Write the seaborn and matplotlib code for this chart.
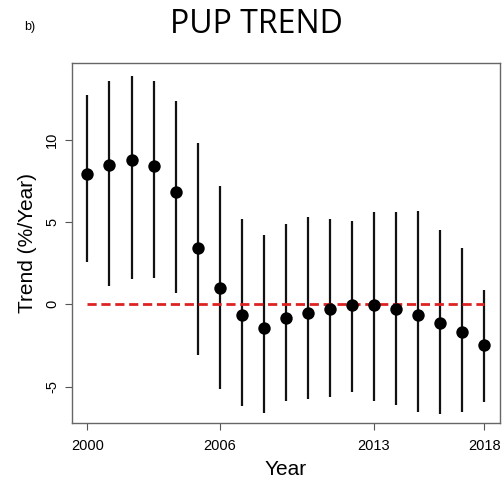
import matplotlib
matplotlib.use("Agg")
import matplotlib.pyplot as plt
import seaborn as sns
import pandas as pd

years = list(range(2000, 2019))
trend = [7.94, 8.45, 8.77, 8.39, 6.81, 3.40, 1.01, -0.67, -1.42, -0.85,
         -0.55, -0.27, -0.06, -0.06, -0.27, -0.67, -1.16, -1.70, -2.49]
upper = [12.72, 13.56, 13.90, 13.57, 12.38, 9.82, 7.17, 5.20, 4.23, 4.88,
         5.31, 5.17, 5.06, 5.61, 5.61, 5.69, 4.54, 3.44, 0.89]
lower = [2.55, 1.09, 1.54, 1.58, 0.71, -3.06, -5.13, -6.16, -6.63, -5.86,
         -5.78, -5.65, -5.31, -5.90, -6.12, -6.57, -6.69, -6.53, -5.92]
x_ticks = [2000, 2006, 2013, 2018]
y_ticks = [-5, 0, 5, 10]

df = pd.DataFrame({"Year": years, "Trend": trend, "Upper": upper, "Lower": lower})

sns.set_style("white")
plt.rcParams['font.family'] = ['Liberation Sans', 'DejaVu Sans']
plt.rcParams['text.color'] = 'black'
plt.rcParams['axes.labelcolor'] = 'black'
plt.rcParams['xtick.color'] = 'black'
plt.rcParams['ytick.color'] = 'black'

fig = plt.figure(figsize=(5.04, 4.78), dpi=100)
ax = fig.add_axes([0.142, 0.1157, 0.850, 0.7525])

ax.vlines(df["Year"], df["Lower"], df["Upper"], color="#111111", linewidth=1.6, zorder=2)
ax.plot([years[0], years[-1]], [0, 0], color="#dd2222", linewidth=2.0,
        linestyle=(0, (3.3, 1.7)), zorder=3)
sns.scatterplot(data=df, x="Year", y="Trend", ax=ax, color="black", s=80,
                edgecolor="black", linewidth=0, zorder=4)

ax.set_xlim(1999.28, 2018.72)
ax.set_ylim(-7.2, 14.67)
ax.set_xticks(x_ticks)
ax.set_xticklabels([str(t) for t in x_ticks], fontsize=10.5)
ax.set_yticks(y_ticks)
ax.set_yticklabels([str(t) for t in y_ticks], fontsize=10.5, rotation=90, va="center")
ax.tick_params(axis="both", direction="out", length=5, width=0.8, color="#555555",
               bottom=True, left=True)
ax.tick_params(axis="x", pad=7)
ax.tick_params(axis="y", pad=4)
for s in ax.spines.values():
    s.set_color("#666666")
    s.set_linewidth(1.0)

ax.set_xlabel("Year", fontsize=15, labelpad=5)
ax.set_ylabel("Trend (%/Year)", fontsize=15, labelpad=6)

fig.text(0.508, 0.948, "PUP TREND", fontsize=23, ha="center", va="center",
         family=["Open Sans", "DejaVu Sans"], color="black")
fig.text(0.058, 0.943, "b)", fontsize=9, ha="center", va="center")

fig.savefig("out.png", dpi=100)
